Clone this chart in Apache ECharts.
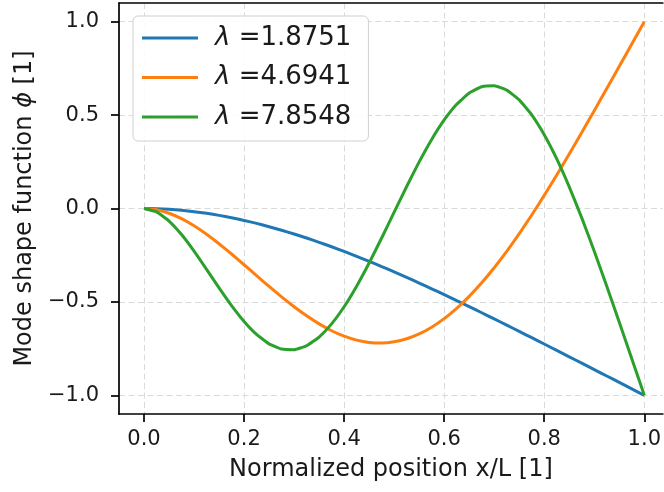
<!DOCTYPE html>
<html><head><meta charset="utf-8">
<script src="https://cdn.jsdelivr.net/npm/echarts@6/dist/echarts.min.js"></script>
<style>html,body{margin:0;padding:0;background:#fff}#c{width:664px;height:492px}</style>
</head><body><div id="c"></div>
<script>
// Normalized position x/L
const xValues = [0, 0.025, 0.05, 0.075, 0.1, 0.125, 0.15, 0.175, 0.2, 0.225, 0.25, 0.275, 0.3, 0.325, 0.35, 0.375, 0.4,
                 0.425, 0.45, 0.475, 0.5, 0.525, 0.55, 0.575, 0.6, 0.625, 0.65, 0.675, 0.7, 0.725, 0.75, 0.775, 0.8,
                 0.825, 0.85, 0.875, 0.9, 0.925, 0.95, 0.975, 1.0];
// Series labels
const lambdas = ['1.8751', '4.6941', '7.8548'];
// Mode shape values
const mode1 = [0, -0.0011, -0.0043, -0.0095, -0.0168, -0.0259, -0.0368, -0.0495, -0.0639, -0.0798, -0.0973,
               -0.1162, -0.1365, -0.1581, -0.1809, -0.2048, -0.2299, -0.2559, -0.2830, -0.3108, -0.3395,
               -0.3690, -0.3991, -0.4298, -0.4611, -0.4929, -0.5252, -0.5579, -0.5909, -0.6242, -0.6578,
               -0.6915, -0.7255, -0.7596, -0.7938, -0.8281, -0.8624, -0.8968, -0.9307, -0.9656, -1.0];
const mode2 = [0, -0.0066, -0.0254, -0.0546, -0.0926, -0.1379, -0.1888, -0.2437, -0.3011, -0.3594, -0.4173,
               -0.4733, -0.5261, -0.5746, -0.6177, -0.6543, -0.6835, -0.7046, -0.7170, -0.7201, -0.7137,
               -0.6974, -0.6712, -0.6352, -0.5895, -0.5344, -0.4702, -0.3976, -0.3170, -0.2293, -0.1350,
               -0.0350, 0.0701, 0.1792, 0.2917, 0.4067, 0.5238, 0.6420, 0.7611, 0.8805, 1.0];
const mode3 = [0, -0.0180, -0.0670, -0.1395, -0.2281, -0.3255, -0.4248, -0.5197, -0.6045, -0.6741, -0.7245,
               -0.7525, -0.7562, -0.7347, -0.6881, -0.6177, -0.5259, -0.4159, -0.2918, -0.1580, -0.0197,
               0.1178, 0.2493, 0.3695, 0.4738, 0.5578, 0.6180, 0.6519, 0.6574, 0.6339, 0.5814,
               0.5011, 0.3948, 0.2654, 0.1158, -0.0501, -0.2286, -0.4158, -0.6085, -0.8038, -1.0];
// Tick labels
const xTicks = [0, 0.2, 0.4, 0.6, 0.8, 1.0];
const yTicks = [-1.0, -0.5, 0.0, 0.5, 1.0];

const colors = ['#1f77b4', '#ff7f0e', '#2ca02c'];
const FONT = 'DejaVu Sans';
const TXT = '#1a1a1a';
const modes = [mode1, mode2, mode3];

const fmt = v => v.toFixed(1).replace('-', '\u2212');
const spine = { show: true, onZero: false, lineStyle: { color: '#000', width: 1.7 } };
const grid = { show: true, lineStyle: { color: '#dadada', width: 1, type: [6, 3.5] } };

const chart = echarts.init(document.getElementById('c'), null, { renderer: 'canvas' });
chart.setOption({
  animation: false,
  backgroundColor: '#fff',
  color: colors,
  grid: { left: 119, top: 3, right: 0, bottom: 78, containLabel: false },
  xAxis: [{
    type: 'value', min: -0.05, max: 1.037, position: 'bottom',
    axisLine: spine,
    axisTick: { show: true, customValues: xTicks, length: 8, inside: false, lineStyle: { color: '#000', width: 1.7 } },
    axisLabel: { customValues: xTicks, formatter: fmt, margin: 15, fontSize: 21, fontFamily: FONT, color: TXT },
    splitLine: grid,
    name: 'Normalized position x/L [1]', nameLocation: 'middle', nameGap: 44,
    nameTextStyle: { fontSize: 24, fontFamily: FONT, color: TXT }
  }, {
    type: 'value', min: -0.05, max: 1.037, position: 'top',
    axisLine: spine, axisTick: { show: false }, axisLabel: { show: false }, splitLine: { show: false }
  }],
  yAxis: {
    type: 'value', min: -1.1, max: 1.1,
    axisLine: spine,
    axisTick: { show: true, customValues: yTicks, length: 8, inside: false, lineStyle: { color: '#000', width: 1.7 } },
    axisLabel: { customValues: yTicks, formatter: fmt, margin: 20, fontSize: 21, fontFamily: FONT, color: TXT },
    splitLine: grid,
    name: '{a|Mode shape function }{i|\u03D5}{a| [1]}', nameLocation: 'middle', nameGap: 81,
    nameTextStyle: {
      fontSize: 24, fontFamily: FONT, color: TXT,
      rich: { a: { fontSize: 24, fontFamily: FONT, color: TXT }, i: { fontSize: 24, fontFamily: FONT, fontStyle: 'italic', color: TXT } }
    }
  },
  legend: {
    left: 133, top: 16, orient: 'vertical',
    padding: [9, 17, 11, 9],
    icon: 'rect',
    itemWidth: 56, itemHeight: 3.2, itemGap: 13.5,
    backgroundColor: 'rgba(255,255,255,0.85)', borderColor: '#d0d0d0', borderWidth: 1, borderRadius: 5,
    formatter: name => name.replace('\u03BB', '{i|\u03BB}'),
    textStyle: {
      fontSize: 26, fontFamily: FONT, color: TXT,
      rich: { i: { fontSize: 26, fontFamily: FONT, fontStyle: 'italic', color: TXT, padding: [0, 0, 0, 12] } }
    }
  },
  series: modes.map((m, k) => ({
    type: 'line',
    name: '\u03BB =' + lambdas[k],
    xAxisIndex: 0,
    data: xValues.map((x, i) => [x, m[i]]),
    smooth: 0.12,
    symbol: 'none',
    lineStyle: { width: 3, color: colors[k], join: 'round' },
    itemStyle: { color: colors[k] },
    z: 3 + k
  }))
});
</script></body></html>
